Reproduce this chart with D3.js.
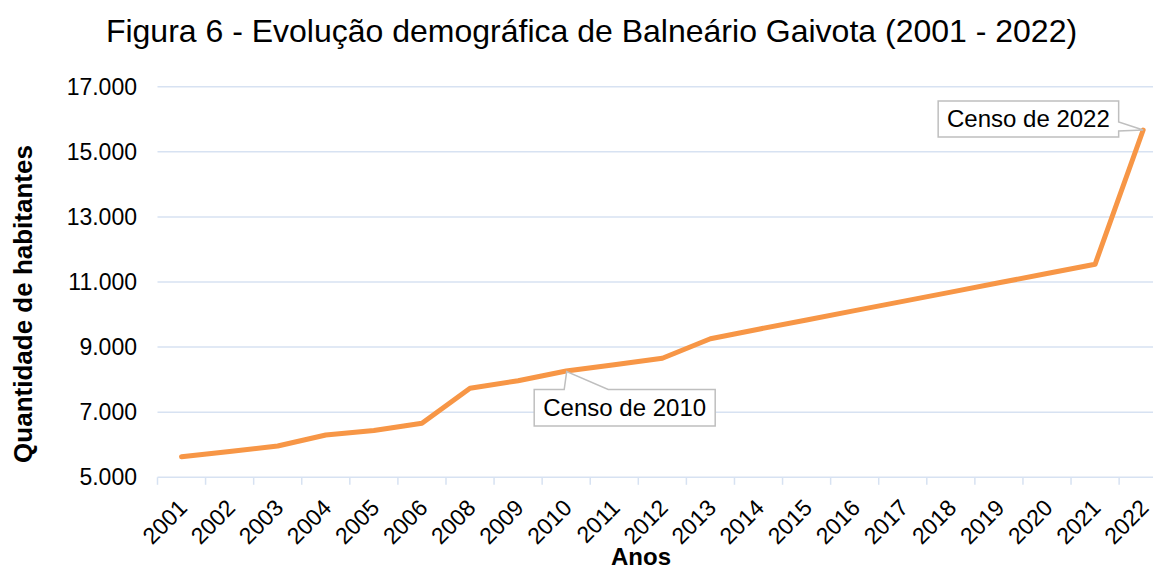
<!DOCTYPE html>
<html>
<head>
<meta charset="utf-8">
<script src="https://cdn.jsdelivr.net/npm/d3@7/dist/d3.min.js"></script>
<style>
  html, body { margin: 0; padding: 0; background: #fff; }
  svg { display: block; font-family: "Liberation Sans", Arial, sans-serif; }
</style>
</head>
<body>
<svg id="chart" width="1153" height="570"></svg>
<script>
const categories = ["2001","2002","2003","2004","2005","2006","2008","2009","2010","2011","2012","2013","2014","2015","2016","2017","2018","2019","2020","2021","2022"];
const populacao = [5633, 5790, 5962, 6300, 6440, 6659, 7734, 7968, 8264, 8460, 8656, 9258, 9550, 9835, 10120, 10405, 10690, 10975, 11260, 11544, 15670];
const yTicks = [5000, 7000, 9000, 11000, 13000, 15000, 17000];
const annotations = [
  { category: "2010", text: "Censo de 2010" },
  { category: "2022", text: "Censo de 2022" }
];
const title = "Figura 6 - Evolução demográfica de Balneário Gaivota (2001 - 2022)";
const xTitle = "Anos";
const yTitle = "Quantidade de habitantes";

const svg = d3.select("#chart");
const W = 1153, H = 570;
const mLeft = 157.5, mRight = 1167.2, mTop = 86.7, mBottom = 477.3;

const x = d3.scaleBand().domain(categories).range([mLeft, mRight]).padding(0);
const y = d3.scaleLinear().domain([5000, 17000]).range([mBottom, mTop]);
const bw = x.bandwidth();
const fmt = v => d3.format(",")(v).replace(/,/g, ".");

const gridColor = "#D7E2F2";

// gridlines
svg.append("g").selectAll("line").data(yTicks.filter(t => t !== 5000)).join("line")
  .attr("x1", mLeft).attr("x2", W)
  .attr("y1", d => y(d)).attr("y2", d => y(d))
  .attr("stroke", gridColor).attr("stroke-width", 1.5);

// y axis labels
const yAxis = d3.axisLeft(y).tickValues(yTicks).tickFormat(fmt).tickSize(0).tickPadding(0);
const gy = svg.append("g").attr("transform", `translate(137,0)`).call(yAxis);
gy.select(".domain").remove();
gy.selectAll("text").attr("font-size", 23).attr("fill", "#000")
  .attr("font-family", "Liberation Sans, Arial, sans-serif");

// x axis line and tick marks at band boundaries
svg.append("line").attr("x1", mLeft).attr("x2", W).attr("y1", mBottom).attr("y2", mBottom)
  .attr("stroke", gridColor).attr("stroke-width", 1.5);
svg.append("g").selectAll("line").data(categories).join("line")
  .attr("x1", d => x(d)).attr("x2", d => x(d))
  .attr("y1", mBottom).attr("y2", mBottom + 7.5)
  .attr("stroke", gridColor).attr("stroke-width", 1.5);

// x labels
const xAxis = d3.axisBottom(x).tickSize(0).tickPadding(0);
const gx = svg.append("g").attr("transform", `translate(0,${mBottom})`).call(xAxis);
gx.select(".domain").remove();
gx.selectAll("text")
  .attr("font-size", 23).attr("fill", "#000")
  .attr("font-family", "Liberation Sans, Arial, sans-serif")
  .attr("text-anchor", "end")
  .attr("dy", null).attr("y", 0)
  .attr("transform", "translate(7,32) rotate(-45)");

// line
const line = d3.line().x((d, i) => x(categories[i]) + bw / 2).y(d => y(d));
svg.append("path").datum(populacao)
  .attr("d", line)
  .attr("fill", "none")
  .attr("stroke", "#F79646")
  .attr("stroke-width", 5)
  .attr("stroke-linejoin", "round")
  .attr("stroke-linecap", "round");

// annotations
function px(cat) { return x(cat) + bw / 2; }
function py(cat) { return y(populacao[categories.indexOf(cat)]); }

// Censo de 2010 (box below right, pointer from top edge)
{
  const a = annotations[0];
  const cx = px(a.category), cy = py(a.category);
  const bx0 = cx - 32, bx1 = cx + 149, by0 = cy + 18.5, by1 = cy + 55;
  const pts = [[bx0, by0], [cx - 2, by0], [cx + 0.5, cy + 0.5], [cx + 42, by0], [bx1, by0], [bx1, by1], [bx0, by1]];
  svg.append("path").attr("d", "M" + pts.map(p => p.join(",")).join("L") + "Z")
    .attr("fill", "#fff").attr("stroke", "#BFBFBF").attr("stroke-width", 1.5);
  svg.append("text").attr("x", (bx0 + bx1) / 2).attr("y", (by0 + by1) / 2 + 8.5)
    .attr("text-anchor", "middle").attr("font-size", 24).attr("fill", "#000").text(a.text);
}
// Censo de 2022 (box to the left, pointer from right edge)
{
  const a = annotations[1];
  const cx = px(a.category), cy = py(a.category);
  const bx0 = cx - 205, bx1 = cx - 24.5, by0 = cy - 29, by1 = cy + 7;
  const pts = [[bx0, by0], [bx1, by0], [bx1, cy - 8], [cx, cy], [bx1, cy + 1], [bx1, by1], [bx0, by1]];
  svg.append("path").attr("d", "M" + pts.map(p => p.join(",")).join("L") + "Z")
    .attr("fill", "#fff").attr("stroke", "#BFBFBF").attr("stroke-width", 1.5);
  svg.append("text").attr("x", (bx0 + bx1) / 2).attr("y", (by0 + by1) / 2 + 8.5)
    .attr("text-anchor", "middle").attr("font-size", 24).attr("fill", "#000").text(a.text);
}

// titles
svg.append("text").attr("x", 591.5).attr("y", 42).attr("text-anchor", "middle")
  .attr("font-size", 32).attr("fill", "#000").text(title);
svg.append("text").attr("x", 641).attr("y", 565).attr("text-anchor", "middle")
  .attr("font-size", 24).attr("font-weight", "bold").attr("fill", "#000").text(xTitle);
svg.append("text").attr("transform", `translate(31.5,304) rotate(-90)`).attr("text-anchor", "middle")
  .attr("font-size", 26).attr("font-weight", "bold").attr("fill", "#000").text(yTitle);
</script>
</body>
</html>
